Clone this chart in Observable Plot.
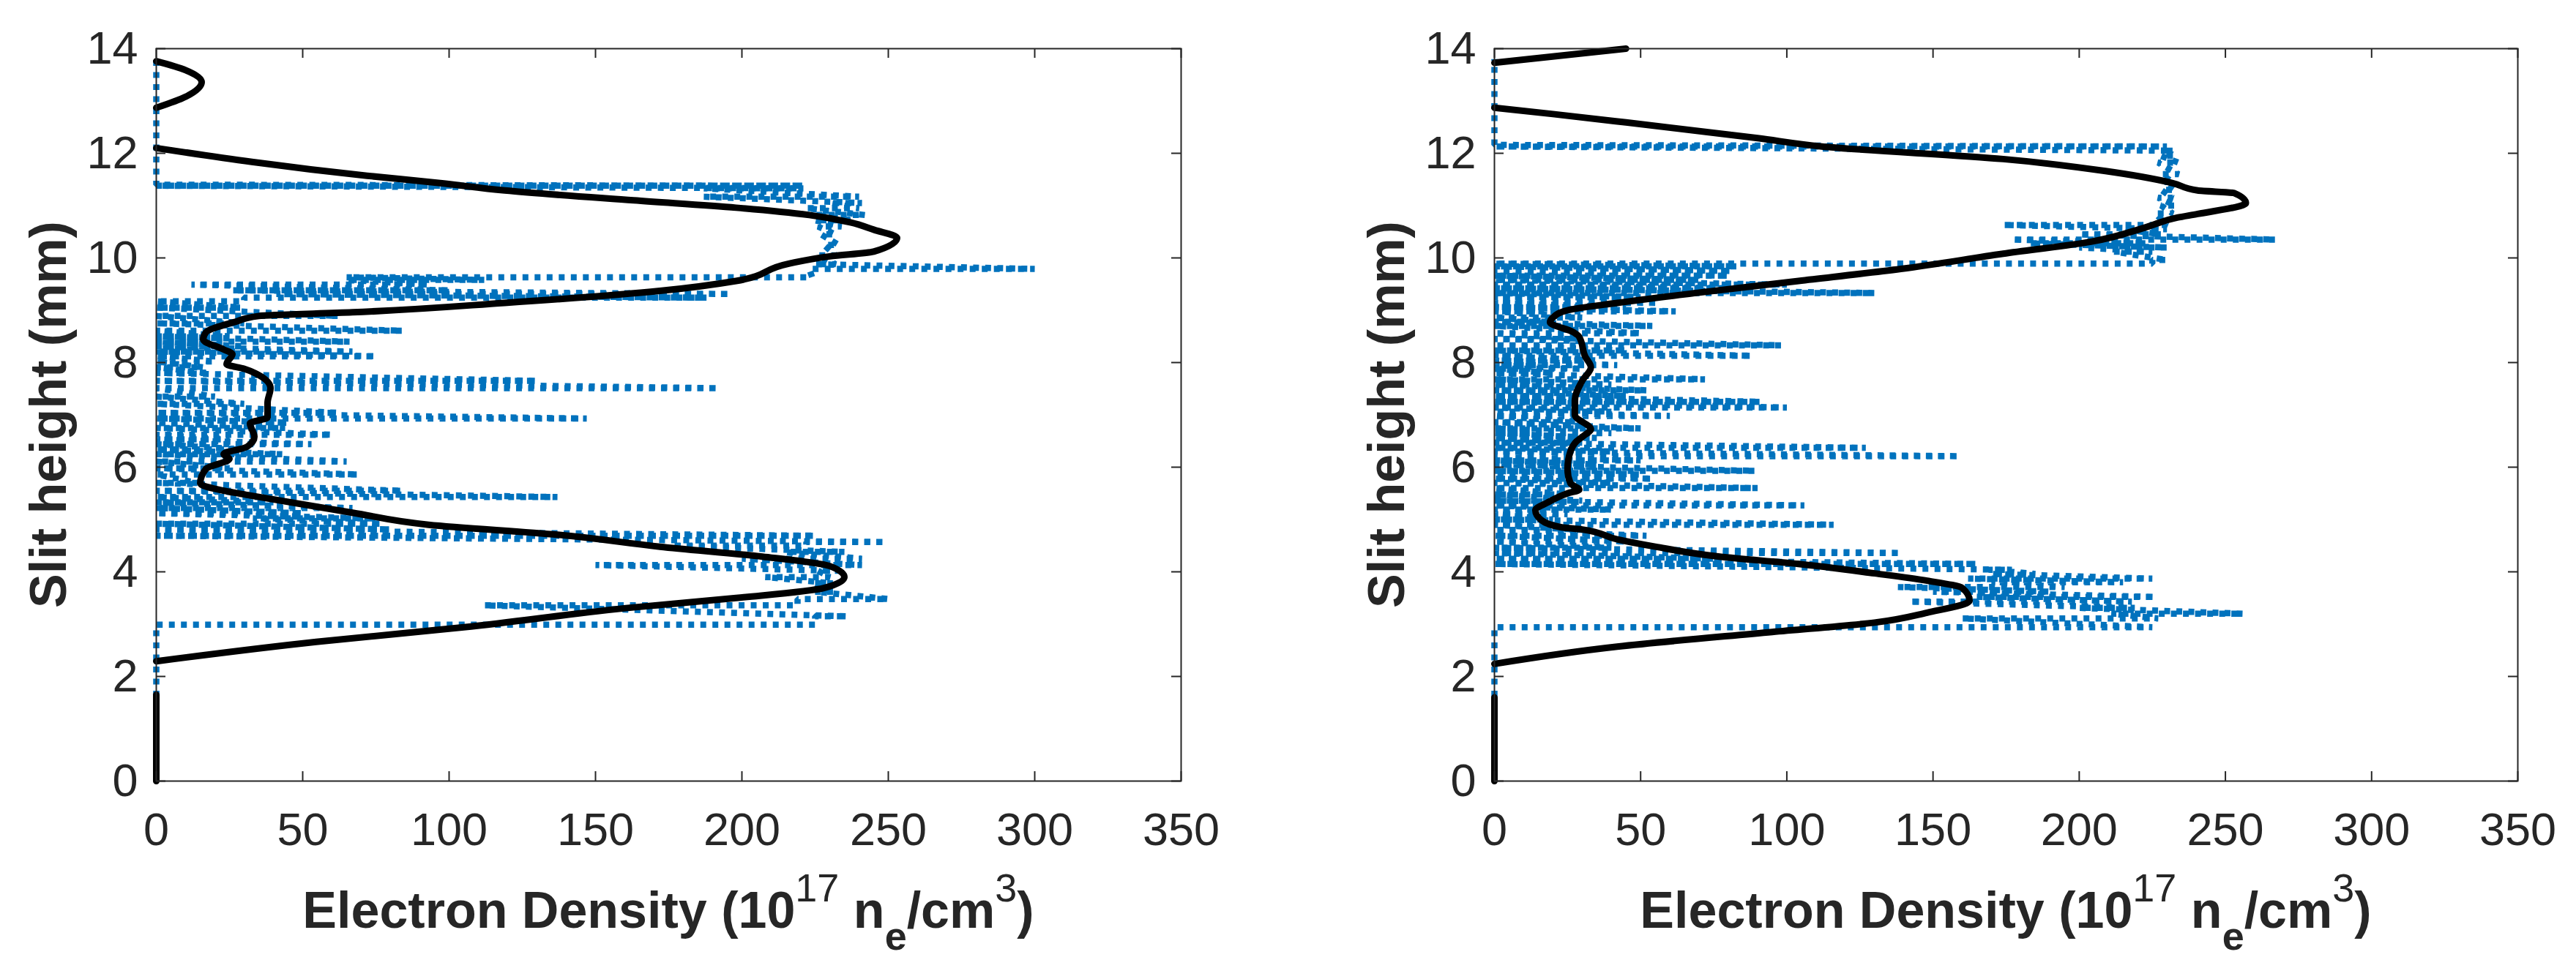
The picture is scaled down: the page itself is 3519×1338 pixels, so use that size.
<!DOCTYPE html>
<html>
<head>
<meta charset="utf-8">
<script src="https://cdn.jsdelivr.net/npm/d3@7"></script>
<script src="https://cdn.jsdelivr.net/npm/@observablehq/plot@0.6"></script>
<style>
  body { margin: 0; background: #fff; overflow: hidden; }
  #charts { display: flex; width: 3519px; height: 1338px; }
</style>
</head>
<body>
<div id="charts"></div>
<script>
const xTicks = [0, 50, 100, 150, 200, 250, 300, 350];
const yTicks = [0, 2, 4, 6, 8, 10, 12, 14];

// measured profile (blue, dotted): rows of the zigzag, [height, from, to]
const leftRowH = [0, 2.95, 2.99, 3.15, 3.36, 3.48, 3.62, 3.78, 3.90, 4.02, 4.13, 4.25, 4.38, 4.50, 4.57, 4.69, 4.81, 4.92, 5.02, 5.12, 5.22, 5.33, 5.43, 5.55, 5.70, 5.86, 5.98, 6.11, 6.25, 6.34, 6.44, 6.53, 6.62, 6.75, 6.85, 6.93, 7.04, 7.21, 7.35, 7.51, 7.65, 7.80, 7.91, 8.02, 8.12, 8.21, 8.31, 8.40, 8.50, 8.61, 8.75, 8.89, 9.05, 9.17, 9.24, 9.31, 9.38, 9.49, 9.58, 9.63, 9.79, 9.88, 10.05, 10.25, 10.45, 10.60, 10.72, 10.82, 10.95, 11.05, 11.17, 11.33, 11.38, 11.40, 13.9];
const leftRowFrom = [0, 0, 0, 225, 112, 219, 225, 224, 208, 226, 150, 200, 215, 176, 222, 0, 0, 0, 33, 0, 0, 0, 0, 0, 0, 0, 0, 0, 0, 0, 0, 0, 0, 0, 0, 0, 0, 0, 0, 0, 0, 0, 0, 0, 0, 0, 0, 0, 0, 0, 0, 0, 0, 0, 30, 41, 26, 12, 65, 65, 223, 225, 226, 228, 227, 226, 225, 225, 222, 230, 187, 187, 0, 0, 0];
const leftRowTo = [0, 0, 225, 236, 219, 250, 232, 231, 230, 233, 241, 241, 235, 222, 249, 225, 80, 77, 75, 50, 67, 40, 137, 84, 14, 69, 25, 65, 43, 30, 53, 25, 60, 44, 45, 147, 62, 30, 20, 192, 130, 18, 16, 20, 75, 67, 30, 66, 25, 84, 30, 62, 29, 30, 188, 196, 100, 93, 112, 224, 300, 232, 232, 233, 232, 234, 238, 242, 240, 241, 240, 221, 221, 0, 0];

const rightRowH = [0, 2.90, 2.94, 3.11, 3.20, 3.31, 3.43, 3.52, 3.62, 3.71, 3.80, 3.87, 3.96, 4.04, 4.15, 4.25, 4.36, 4.46, 4.58, 4.69, 4.80, 4.90, 5.00, 5.10, 5.19, 5.27, 5.36, 5.48, 5.60, 5.70, 5.78, 5.86, 5.93, 6.05, 6.13, 6.21, 6.30, 6.37, 6.47, 6.56, 6.65, 6.74, 6.86, 6.98, 7.06, 7.14, 7.25, 7.36, 7.47, 7.58, 7.68, 7.80, 7.88, 7.95, 8.04, 8.13, 8.23, 8.33, 8.45, 8.56, 8.70, 8.78, 8.86, 8.98, 9.06, 9.14, 9.25, 9.33, 9.42, 9.49, 9.58, 9.66, 9.75, 9.84, 9.89, 9.96, 10.12, 10.20, 10.28, 10.35, 10.45, 10.55, 10.63, 10.85, 11.00, 11.15, 11.30, 11.45, 11.60, 11.82, 11.95, 12.05, 12.13, 12.16, 13.8];
const rightRowFrom = [0, 0, 0, 160, 211, 200, 142, 165, 150, 138, 170, 162, 170, 169, 0, 0, 0, 0, 0, 0, 0, 0, 0, 0, 0, 0, 0, 0, 0, 0, 0, 0, 0, 0, 0, 0, 0, 0, 0, 0, 0, 0, 0, 0, 0, 0, 0, 0, 0, 0, 0, 0, 0, 0, 0, 0, 0, 0, 0, 0, 0, 0, 0, 0, 0, 0, 0, 0, 0, 0, 0, 0, 0, 0, 0, 225, 212, 200, 183, 177, 200, 215, 174, 226, 228, 227, 228, 229, 228, 227, 228, 229, 0, 0, 0];
const rightRowTo = [0, 0, 225, 227, 256, 219, 218, 226, 190, 195, 215, 225, 185, 177, 165, 77, 139, 40, 45, 52, 30, 116, 20, 25, 40, 106, 30, 25, 90, 40, 54, 50, 89, 35, 50, 159, 40, 127, 30, 35, 40, 50, 30, 60, 40, 100, 91, 45, 52, 40, 72, 20, 30, 42, 35, 88, 45, 98, 30, 50, 54, 20, 30, 62, 45, 56, 50, 130, 80, 100, 70, 80, 81, 83, 225, 230, 225, 230, 223, 267, 228, 230, 230, 232, 233, 232, 233, 232, 234, 234, 233, 232, 230, 0, 0];

// fitted profile (black, solid), three pieces each
const leftFitH = [
  [0, 1.65],
  [2.29, 2.66, 2.94, 3.32, 3.50, 3.69, 3.90, 4.11, 4.29, 4.48, 4.71, 4.90, 5.13, 5.46, 5.55, 5.69, 5.97, 6.16, 6.25, 6.39, 6.58, 6.84, 6.95, 7.23, 7.51, 7.79, 7.88, 7.97, 8.16, 8.25, 8.44, 8.58, 8.77, 8.89, 8.96, 9.14, 9.37, 9.56, 9.89, 10.03, 10.12, 10.38, 10.54, 10.68, 10.82, 10.96, 11.10, 11.29, 11.43, 11.57, 12.10],
  [12.87, 13.08, 13.36, 13.59, 13.76]
];
const leftFitX = [
  [0, 0],
  [0, 54.6, 105, 163, 198, 228, 235, 230, 207, 172, 137, 93, 67, 32, 23, 15, 17, 25, 23, 31, 33.5, 32, 38, 38, 39, 34, 30, 24, 26, 23, 16, 17, 26.5, 35, 67, 119, 172, 198, 216, 230, 245, 253, 245, 237, 223, 198, 163, 119, 97, 72, 0],
  [0, 10, 15.5, 10, 0]
];
const rightFitH = [
  [0, 1.6],
  [2.24, 2.57, 2.85, 3.03, 3.22, 3.45, 3.69, 3.83, 3.97, 4.15, 4.29, 4.48, 4.62, 4.81, 4.85, 4.99, 5.18, 5.32, 5.50, 5.57, 5.69, 5.97, 6.30, 6.49, 6.62, 6.72, 7.00, 7.28, 7.65, 7.91, 8.12, 8.49, 8.58, 8.77, 8.86, 9.00, 9.14, 9.33, 9.56, 9.79, 10.08, 10.31, 10.59, 10.77, 10.84, 11.05, 11.24, 11.29, 11.43, 11.66, 11.89, 12.13, 12.29, 12.59, 12.75, 12.87],
  [13.73, 14.0]
];
const rightFitX = [
  [0, 0],
  [0, 42, 95, 130, 148, 162.5, 160, 148, 130, 104, 77, 55, 42, 30, 23, 16, 14, 18, 25, 29, 26, 25, 26, 28, 31, 33, 27.5, 27.5, 30, 33, 31, 29, 27, 19, 20, 25, 42, 69, 104, 139, 174, 204, 223, 233.5, 240.5, 257, 253, 240.5, 232, 209, 174, 112, 90, 45, 20, 0],
  [0, 45]
];

const blue = "#0072BD";
const ink = "#262626";
const font = "'Liberation Sans', Arial, Helvetica, sans-serif";

function zigzag(hs, from, to) {
  const pts = [];
  hs.forEach((h, i) => {
    pts.push({x: from[i], y: h});
    pts.push({x: to[i], y: h});
  });
  return pts;
}

function pieces(hs, xs) {
  return hs.flatMap((seg, k) => seg.map((h, i) => ({x: xs[k][i], y: h, part: k})));
}

function panel({width, marginLeft, marginRight, rows, fit}) {
  const marginTop = 66, marginBottom = 271, height = 1338;
  const plotW = width - marginLeft - marginRight;
  const plotH = height - marginTop - marginBottom;
  const chart = Plot.plot({
    width, height, marginLeft, marginRight, marginTop, marginBottom,
    style: {fontFamily: font, background: "#fff", overflow: "visible"},
    x: {domain: [0, 350]},
    y: {domain: [0, 14]},
    marks: [
      Plot.line(zigzag(...rows), {x: "x", y: "y", stroke: blue, strokeWidth: 8.5, strokeDasharray: "8,8.5", strokeLinecap: "butt", strokeLinejoin: "miter"}),
      Plot.line(pieces(...fit), {x: "x", y: "y", z: "part", stroke: "#000", strokeWidth: 9, curve: "monotone-y", strokeLinejoin: "round"}),
      Plot.frame({stroke: ink, strokeWidth: 2}),
      Plot.ruleX(xTicks, {x: d => d, insetTop: plotH - 13, stroke: ink, strokeWidth: 2}),
      Plot.ruleX(xTicks, {x: d => d, insetBottom: plotH - 13, stroke: ink, strokeWidth: 2}),
      Plot.ruleY(yTicks, {y: d => d, insetRight: plotW - 13, stroke: ink, strokeWidth: 2}),
      Plot.ruleY(yTicks, {y: d => d, insetLeft: plotW - 13, stroke: ink, strokeWidth: 2}),
      Plot.axisX(xTicks, {tickSize: 0, tickPadding: 43, fontSize: 63, fill: ink, label: null, tickFormat: d => String(d)}),
      Plot.axisY(yTicks, {tickSize: 0, tickPadding: 25, fontSize: 63, fill: ink, label: null, tickFormat: d => String(d)})
    ]
  });

  const svg = d3.select(chart);
  // y label
  svg.append("text")
    .attr("transform", `translate(${marginLeft - 123},${marginTop + plotH / 2}) rotate(-90)`)
    .attr("text-anchor", "middle")
    .attr("font-family", font).attr("font-size", 70).attr("font-weight", "bold").attr("fill", ink)
    .text("Slit height (mm)");
  // x label with super/subscripts
  const xl = svg.append("text")
    .attr("x", marginLeft + plotW / 2).attr("y", 1268)
    .attr("text-anchor", "middle")
    .attr("font-family", font).attr("font-size", 70).attr("font-weight", "bold").attr("fill", ink);
  xl.append("tspan").text("Electron Density (10");
  xl.append("tspan").attr("dy", -36).attr("font-size", 54).attr("font-weight", "normal").text("17");
  xl.append("tspan").attr("dy", 36).text(" n");
  xl.append("tspan").attr("dy", 30).attr("font-size", 54).text("e");
  xl.append("tspan").attr("dy", -30).text("/cm");
  xl.append("tspan").attr("dy", -36).attr("font-size", 54).attr("font-weight", "normal").text("3");
  xl.append("tspan").attr("dy", 36).text(")");
  return chart;
}

const left = panel({width: 1760, marginLeft: 213, marginRight: 147, rows: [leftRowH, leftRowFrom, leftRowTo], fit: [leftFitH, leftFitX]});
const right = panel({width: 1759, marginLeft: 281, marginRight: 80, rows: [rightRowH, rightRowFrom, rightRowTo], fit: [rightFitH, rightFitX]});

d3.select("#charts").append(() => left);
d3.select("#charts").append(() => right);
</script>
</body>
</html>
